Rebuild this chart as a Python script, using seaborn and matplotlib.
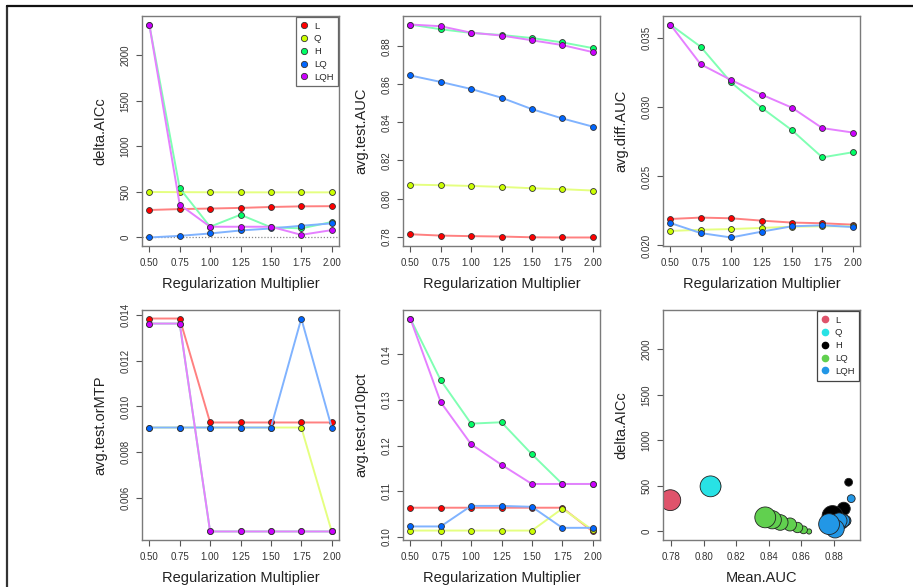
import numpy as np
import pandas as pd
import matplotlib
matplotlib.use("Agg")
import matplotlib.pyplot as plt
import seaborn as sns
from matplotlib.lines import Line2D

rm = [0.50, 0.75, 1.00, 1.25, 1.50, 1.75, 2.00]
features = ["L", "Q", "H", "LQ", "LQH"]

delta_aicc = {
    "L": [302, 312, 318, 325, 335, 342, 344],
    "Q": [500, 498, 497, 496, 496, 496, 496],
    "H": [2340, 541, 118, 250, 112, 100, 170],
    "LQ": [0, 18, 44, 77, 99, 129, 155],
    "LQH": [2340, 361, 118, 118, 118, 29, 81],
}
test_auc = {
    "L": [0.7812, 0.7805, 0.7802, 0.7800, 0.7796, 0.7795, 0.7795],
    "Q": [0.8073, 0.8070, 0.8066, 0.8061, 0.8054, 0.8049, 0.8042],
    "H": [0.8915, 0.8890, 0.8871, 0.8860, 0.8844, 0.8821, 0.8791],
    "LQ": [0.8647, 0.8613, 0.8576, 0.8530, 0.8470, 0.8421, 0.8378],
    "LQH": [0.8915, 0.8906, 0.8872, 0.8857, 0.8832, 0.8807, 0.8770],
}
diff_auc = {
    "L": [0.02192, 0.02202, 0.02197, 0.02180, 0.02166, 0.02161, 0.02151],
    "Q": [0.02105, 0.02114, 0.02119, 0.02127, 0.02136, 0.02139, 0.02139],
    "H": [0.03600, 0.03439, 0.03181, 0.02998, 0.02835, 0.02638, 0.02675],
    "LQ": [0.02163, 0.02090, 0.02058, 0.02100, 0.02139, 0.02146, 0.02134],
    "LQH": [0.03600, 0.03312, 0.03198, 0.03093, 0.02998, 0.02850, 0.02818],
}
or_mtp = {
    "L": [0.01384, 0.01384, 0.00930, 0.00930, 0.00930, 0.00930, 0.00930],
    "Q": [0.00908, 0.00908, 0.00908, 0.00908, 0.00908, 0.00908, 0.00454],
    "H": [0.01362, 0.01362, 0.00454, 0.00454, 0.00454, 0.00454, 0.00454],
    "LQ": [0.00908, 0.00908, 0.00908, 0.00908, 0.00908, 0.01384, 0.00908],
    "LQH": [0.01362, 0.01362, 0.00454, 0.00454, 0.00454, 0.00454, 0.00454],
}
or_10pct = {
    "L": [0.1064, 0.1064, 0.1064, 0.1064, 0.1064, 0.1064, 0.1012],
    "Q": [0.1014, 0.1014, 0.1014, 0.1014, 0.1014, 0.1062, 0.1015],
    "H": [0.1478, 0.1343, 0.1248, 0.1251, 0.1181, 0.1116, 0.1116],
    "LQ": [0.1023, 0.1023, 0.1068, 0.1068, 0.1066, 0.1020, 0.1020],
    "LQH": [0.1478, 0.1295, 0.1203, 0.1158, 0.1116, 0.1116, 0.1116],
}

rows = []
for f in features:
    for i, r in enumerate(rm):
        rows.append({"features": f, "rm": r,
                     "delta.AICc": delta_aicc[f][i], "avg.test.AUC": test_auc[f][i],
                     "avg.diff.AUC": diff_auc[f][i], "avg.test.orMTP": or_mtp[f][i],
                     "avg.test.or10pct": or_10pct[f][i]})
df = pd.DataFrame(rows)

point_cols = {"L": "#FF0000", "Q": "#CCFF00", "H": "#00FF66", "LQ": "#0066FF", "LQH": "#CC00FF"}
line_cols = {"L": "#FF8080", "Q": "#E5FF80", "H": "#80FFB3", "LQ": "#80B3FF", "LQH": "#E580FF"}
bub_cols = {"L": "#DF536B", "Q": "#28E2E5", "H": "#000000", "LQ": "#61D04F", "LQH": "#2297E6"}

sns.set_style("white")
plt.rcParams["font.family"] = ["Liberation Sans", "DejaVu Sans"]
plt.rcParams["axes.xmargin"] = 0.04
plt.rcParams["axes.ymargin"] = 0.04

fig = plt.figure(figsize=(9.13, 5.87), dpi=100)
W, H = 913, 587
lefts = [142, 403, 663]
tops = [16, 310]
aw, ah = 197, 230


def make_ax(col, row):
    l, t = lefts[col], tops[row]
    return fig.add_axes([l / W, 1 - (t + ah) / H, aw / W, ah / H])


def style(ax, xlabel, ylabel, yticks, yfmt, xticks=None, xfmt="{:.2f}"):
    for s in ax.spines.values():
        s.set_color("#7a7a7a")
        s.set_linewidth(1.0)
    xt = rm if xticks is None else xticks
    ax.set_xticks(xt)
    ax.set_xticklabels([xfmt.format(v) for v in xt])
    ax.set_yticks(yticks)
    ax.set_yticklabels([yfmt.format(v) for v in yticks], rotation=90, va="center")
    ax.tick_params(axis="x", length=4, width=0.8, color="#555555", labelsize=7,
                   labelcolor="#333333", pad=5, bottom=True)
    ax.tick_params(axis="y", length=4, width=0.8, color="#555555", labelsize=7,
                   labelcolor="#333333", pad=4.5, left=True)
    ax.set_xlabel(xlabel, fontsize=10.5, color="#222222", labelpad=6)
    ax.set_ylabel(ylabel, fontsize=10.5, color="#222222", labelpad=9)


def metric_panel(ax, col, yticks, yfmt):
    for i, f in enumerate(features):
        sub = df[df["features"] == f]
        sns.lineplot(data=sub, x="rm", y=col, color=line_cols[f],
                     linewidth=1.4, ax=ax, zorder=2 + 2 * i)
        sns.scatterplot(data=sub, x="rm", y=col, color=point_cols[f], edgecolor="#333333",
                        linewidth=0.6, s=18, ax=ax, zorder=3 + 2 * i, legend=False)
    style(ax, "Regularization Multiplier", col, yticks, yfmt)


ax1 = make_ax(0, 0)
metric_panel(ax1, "delta.AICc", [0, 500, 1000, 1500, 2000], "{:.0f}")
ax1.axhline(0, color="#888888", linestyle=(0, (1, 1.5)), linewidth=0.9, zorder=1)
handles = [Line2D([], [], marker="o", linestyle="none", markersize=4.5,
                  markerfacecolor=point_cols[f], markeredgecolor="#333333",
                  markeredgewidth=0.6) for f in features]
leg = ax1.legend(handles, features, loc="upper right", fontsize=6.8, frameon=True,
                 fancybox=False, borderaxespad=0.1, handlelength=0.8, handletextpad=0.6,
                 labelspacing=0.4, borderpad=0.5)
leg.get_frame().set_edgecolor("#444444")
leg.get_frame().set_linewidth(0.9)

ax2 = make_ax(1, 0)
metric_panel(ax2, "avg.test.AUC", [0.78, 0.80, 0.82, 0.84, 0.86, 0.88], "{:.2f}")

ax3 = make_ax(2, 0)
metric_panel(ax3, "avg.diff.AUC", [0.020, 0.025, 0.030, 0.035], "{:.3f}")

ax4 = make_ax(0, 1)
metric_panel(ax4, "avg.test.orMTP", [0.006, 0.008, 0.010, 0.012, 0.014], "{:.3f}")

ax5 = make_ax(1, 1)
metric_panel(ax5, "avg.test.or10pct", [0.10, 0.11, 0.12, 0.13, 0.14], "{:.2f}")

ax6 = make_ax(2, 1)
for f in features:
    sub = df[df["features"] == f]
    sns.scatterplot(data=sub, x="avg.test.AUC", y="delta.AICc", size="rm",
                    sizes={r: (7.5 * r) ** 2 for r in rm}, color=bub_cols[f],
                    edgecolor="#222222", linewidth=0.6, ax=ax6, legend=False)
style(ax6, "Mean.AUC", "delta.AICc", [0, 500, 1000, 1500, 2000], "{:.0f}",
      xticks=[0.78, 0.80, 0.82, 0.84, 0.86, 0.88], xfmt="{:.2f}")
handles6 = [Line2D([], [], marker="o", linestyle="none", markersize=4.5,
                   markerfacecolor=bub_cols[f], markeredgecolor=bub_cols[f]) for f in features]
leg6 = ax6.legend(handles6, features, loc="upper right", fontsize=6.8, frameon=True,
                  fancybox=False, borderaxespad=0.1, handlelength=0.8, handletextpad=0.6,
                  labelspacing=0.4, borderpad=0.5, framealpha=1)
leg6.get_frame().set_edgecolor("#444444")
leg6.get_frame().set_linewidth(0.9)
leg6.set_zorder(20)

# screenshot frame
fig.add_artist(Line2D([7 / W, 7 / W], [0, 1 - 6 / H], color="#333333", linewidth=1.6))
fig.add_artist(Line2D([7 / W, 1], [1 - 6 / H, 1 - 6 / H], color="#111111", linewidth=1.6))

fig.savefig("out.png", dpi=100)
